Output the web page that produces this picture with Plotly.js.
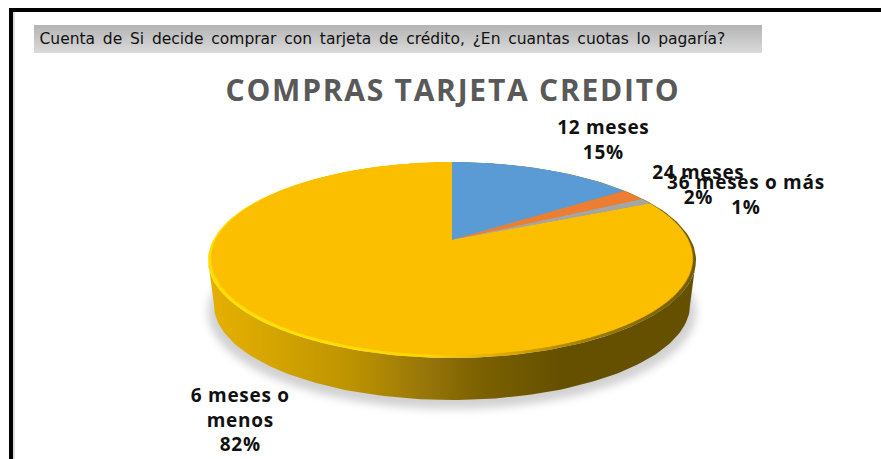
<!DOCTYPE html>
<html><head><meta charset="utf-8">
<script src="https://cdn.plot.ly/plotly-3.0.1.min.js"></script>
<style>
html,body{margin:0;padding:0;background:#fff;overflow:hidden;width:881px;height:459px}
#stage{position:absolute;left:0;top:0;width:881px;height:459px;overflow:hidden}
#back{position:absolute;left:0;top:0;width:881px;height:459px;z-index:1}
#pie{position:absolute;left:152px;top:-60px;width:600px;height:600px;z-index:2;transform-origin:300px 300px}
#back .gtitle{letter-spacing:1.75px}
#back .annotation text{letter-spacing:.7px}
#back .annotation[data-index="4"] text{letter-spacing:0;word-spacing:2.85px}
#back .scatterlayer .trace:nth-child(1){filter:blur(4px)}
#back .scatterlayer .trace:nth-child(2),#back .scatterlayer .trace:nth-child(3){filter:blur(.7px)}
</style></head><body>
<div id="stage"><div id="back"></div><div id="pie"></div></div>
<script>
const categories = ['12 meses','24 meses','36 meses o más','6 meses o menos'];
const values = [15,2,1,82];
const sliceColors = ['#5B9BD5','#ED7D31','#A5A5A5','#FBBF00'];
const labelLines = [['12 meses','15%'],['24 meses','2%'],['36 meses o más','1%'],['6 meses o','menos','82%']];
const labelAnchors = [[603,139],[698,184],[746,194],[240,419]];
const chartTitle = 'COMPRAS TARJETA CREDITO';
const questionText = 'Cuenta de Si decide comprar con tarjeta de crédito, ¿En cuantas cuotas lo pagaría?';

// projected disc geometry in page pixels
const apex = [452,240], R = 240;
const top3d = 162, bottom3d = 355, halfWidth = 241;
const up = apex[1]-top3d, down = bottom3d-apex[1];
const k = -(down-up)/(down+up), a = up*(1-k), ap = halfWidth*Math.sqrt(1-k*k);
const pieDiv = document.getElementById('pie');
pieDiv.style.transform = `matrix3d(${ap/R},0,0,0, 0,${a/R},0,${k/R}, 0,0,1,0, 0,0,0,1)`;

function arc(cx,cy,rx,ry,t0,t1,n){const xs=[],ys=[];for(let i=0;i<=n;i++){const t=t0+(t1-t0)*i/n;xs.push(cx+rx*Math.cos(t));ys.push(cy+ry*Math.sin(t));}return [xs,ys];}
const rim = {cx:452,cy:260,rx:244,ry:98};
const base = {cx:452,cy:305,rx:238,ry:95};
const [tx,ty] = arc(rim.cx,rim.cy,rim.rx,rim.ry,Math.PI,0,120);
const [bx,by] = arc(base.cx,base.cy,base.rx,base.ry,0,Math.PI,120);
const [ex,ey] = arc(rim.cx,rim.cy,rim.rx,rim.ry,0,2*Math.PI,200);
const [sx,sy] = arc(base.cx,base.cy+7,base.rx+6,base.ry+2,0,2*Math.PI,200);

const wallScale = [[0,'#E6B000'],[0.1,'#D9A800'],[0.3,'#BC9200'],[0.45,'#96750A'],[0.55,'#7D6200'],[0.72,'#655000'],[1,'#655000']];
const rimScale = [[0,'#FFDD00'],[0.2,'#FFE000'],[0.45,'#FFD400'],[0.6,'#E0AC00'],[0.78,'#A07E00'],[1,'#6E5800']];

const traces = [];
traces.push({x:sx,y:sy,type:'scatter',mode:'lines',line:{width:0},fill:'toself',fillcolor:'rgba(0,0,0,0.18)',hoverinfo:'skip'});
traces.push({x:tx.concat(bx),y:ty.concat(by),type:'scatter',mode:'lines',line:{width:0},fill:'toself',fillgradient:{type:'horizontal',colorscale:wallScale},hoverinfo:'skip'});
traces.push({x:ex,y:ey,type:'scatter',mode:'lines',line:{width:0},fill:'toself',fillgradient:{type:'horizontal',colorscale:rimScale},hoverinfo:'skip'});
traces.push({x:[34,762,762,34,34],y:[25,25,53,53,25],type:'scatter',mode:'lines',line:{width:0},fill:'toself',fillgradient:{type:'vertical',colorscale:[[0,'#DADADA'],[1,'#B4B4B4']]},hoverinfo:'skip'});

const anns = labelLines.map((lines,i)=>({x:labelAnchors[i][0],y:labelAnchors[i][1],xref:'x',yref:'y',text:lines.join('<br>'),showarrow:false,xanchor:'center',yanchor:'middle',align:'center',font:{family:'Open Sans',size:19,color:'#111',weight:700}}));
anns.push({x:56,y:39,xref:'x',yref:'y',text:questionText,showarrow:false,xanchor:'left',yanchor:'middle',font:{family:'DejaVu Sans',size:15.5,color:'#111'}});

const axis = {visible:false,fixedrange:true};
Plotly.newPlot('back',traces,{
  width:881,height:459,margin:{l:0,r:0,t:0,b:0},showlegend:false,
  paper_bgcolor:'rgba(0,0,0,0)',plot_bgcolor:'rgba(0,0,0,0)',
  xaxis:Object.assign({range:[0,881]},axis),yaxis:Object.assign({range:[459,0]},axis),
  title:{text:chartTitle,x:453/881,y:1-90/459,xref:'paper',yref:'paper',xanchor:'center',yanchor:'middle',font:{family:'Open Sans',size:30,color:'#595959',weight:700}},
  annotations:anns,
  shapes:[
    {type:'rect',xref:'x',yref:'y',x0:9,x1:881,y0:8,y1:12,fillcolor:'#000',line:{width:0},layer:'below'},
    {type:'rect',xref:'x',yref:'y',x0:9,x1:13,y0:8,y1:459,fillcolor:'#000',line:{width:0},layer:'below'},
    {type:'rect',xref:'x',yref:'y',x0:13,x1:15,y0:12,y1:459,fillcolor:'#DDD',line:{width:0},layer:'below'}
  ]
},{staticPlot:true,displayModeBar:false});

Plotly.newPlot('pie',[{type:'pie',labels:categories,values:values,sort:false,direction:'clockwise',rotation:0,
  marker:{colors:sliceColors,line:{width:0}},textinfo:'none',hoverinfo:'skip',domain:{x:[0.1,0.9],y:[0.1,0.9]}}],
  {width:600,height:600,margin:{l:0,r:0,t:0,b:0},showlegend:false,paper_bgcolor:'rgba(0,0,0,0)'},
  {staticPlot:true,displayModeBar:false});
</script></body></html>
